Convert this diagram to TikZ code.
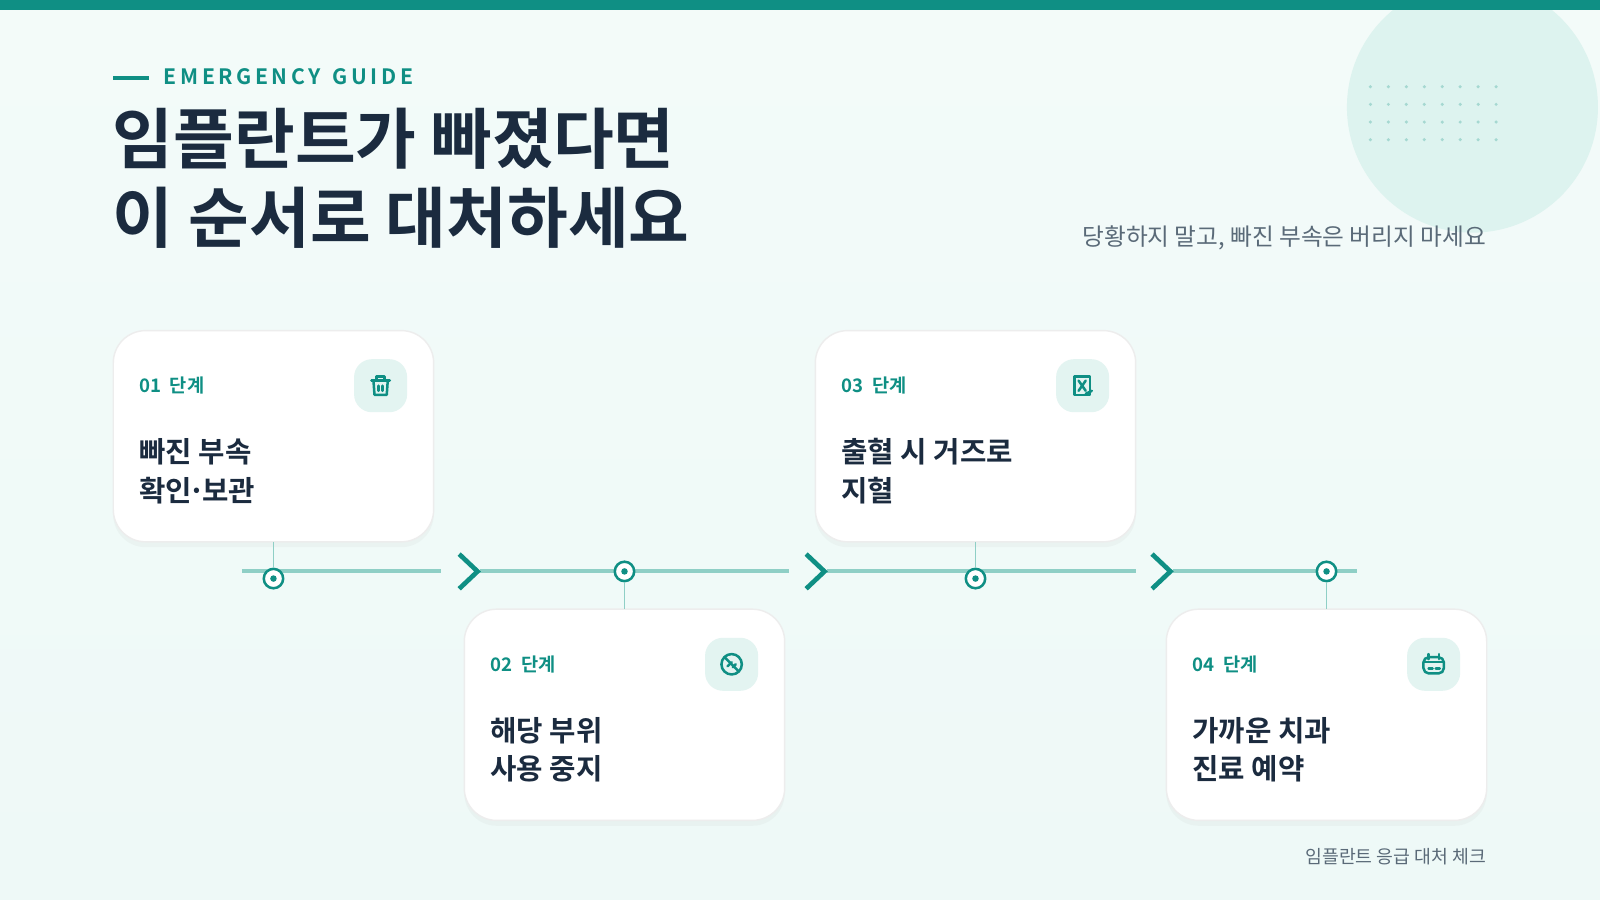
\documentclass[tikz,border=0pt]{standalone}
\usepackage{fontspec}
\setmainfont{Noto Sans CJK KR}[BoldFont={* Bold}]
\usetikzlibrary{shadows}
\definecolor{teal1}{HTML}{0F8F84}
\definecolor{navy}{HTML}{1B2B3F}
\definecolor{mint}{HTML}{DDF3EF}
\definecolor{iconbg}{HTML}{E3F4F1}
\definecolor{track}{HTML}{8FCFC6}
\definecolor{greytxt}{HTML}{5A6A78}
\tikzset{
  card/.style={draw=black!7, fill=white, rounded corners=9pt, line width=0.4pt,
    drop shadow={opacity=0.05, shadow xshift=0pt, shadow yshift=-1.5pt}},
  iconbox/.style={fill=iconbg, rounded corners=5pt},
  ico/.style={draw=teal1, line width=0.7pt, line cap=round, line join=round},
  steplbl/.style={anchor=base west, text=teal1, font=\bfseries\fontsize{5.2}{6}\selectfont},
  steptxt/.style={anchor=north west, align=left, text=navy, font=\bfseries\fontsize{8}{10.8}\selectfont},
  track/.style={draw=track, line width=1.1pt},
  chev/.style={draw=teal1, line width=1.3pt},
  stem/.style={draw=track, line width=0.5pt},
  marker/.style={circle, draw=teal1, fill=white, line width=0.7pt, minimum size=0.19cm, inner sep=0pt}
}
\begin{document}
\begin{tikzpicture}[x=0.01cm, y=-0.01cm]
\useasboundingbox (0,0) rectangle (1568,882);
% background
\shade[top color=mint!35, bottom color=mint!50] (0,0) rectangle (1568,882);
\fill[teal1] (0,0) rectangle (1568,10);
\begin{scope}
\clip (0,10) rectangle (1568,882);
\fill[mint] (1443,105) circle (123);
\end{scope}
\foreach \i in {0,...,7}
  \foreach \j in {0,...,3}
    \fill[track!80] (1343+17.6*\i,85+17.3*\j) circle (1.7);
% heading
\draw[teal1, line width=1.1pt] (111,76) -- (146,76);
\node[anchor=base west, text=teal1, font=\bfseries\fontsize{5.9}{6}\selectfont, inner sep=0pt] (kicker) at (160,83) {E\,M\,E\,R\,G\,E\,N\,C\,Y\, \,G\,U\,I\,D\,E};
\node[anchor=base west, text=navy, font=\bfseries\fontsize{18.4}{22}\selectfont, inner sep=0pt] (title1) at (110,160) {임플란트가 빠졌다면};
\node[anchor=base west, text=navy, font=\bfseries\fontsize{18.4}{22}\selectfont, inner sep=0pt] (title2) at (110,238) {이 순서로 대처하세요};
\node[anchor=base east, text=greytxt, font=\fontsize{6.6}{8}\selectfont, inner sep=0pt] (sub) at (1457,241) {당황하지 말고, 빠진 부속은 버리지 마세요};
\node[anchor=base east, text=greytxt, font=\fontsize{5.1}{6}\selectfont, inner sep=0pt] (foot) at (1457,846) {임플란트 응급 대처 체크};
% timeline
\draw[track] (237,560) -- (432,560);
\draw[track] (470,560) -- (773,560);
\draw[track] (810,560) -- (1113,560);
\draw[track] (1150,560) -- (1330,560);
\foreach \x in {450,790,1129}
  \draw[chev] (\x,543) -- (\x+18,560) -- (\x,577);
% cards
\foreach \n/\x/\y/\la/\lb in {1/111/324/빠진 부속/확인{\kern-1pt}·{\kern-1pt}보관, 2/455/597/해당 부위/사용 중지, 3/799/324/출혈 시 거즈로/지혈, 4/1143/597/가까운 치과/진료 예약}{
  \path[card] (\x,\y) rectangle ++(314,207);
  \path[iconbox] (\x+236,\y+28) rectangle ++(52,52);
  \coordinate (ic\n) at (\x+262,\y+54);
  \node[steplbl, inner sep=0pt] (lbl\n) at (\x+25,\y+61) {0\n\ \ 단계};
  \node[steptxt, inner sep=0pt] (txt\n) at (\x+25,\y+105) {\la\\\lb};
}
% stems and markers
\node[marker] (m1) at (268,567) {};
\node[marker] (m2) at (612,560) {};
\node[marker] (m3) at (956,567) {};
\node[marker] (m4) at (1300,560) {};
\draw[stem] (268,531) -- (m1);
\draw[stem] (m2) -- (612,597);
\draw[stem] (956,531) -- (m3);
\draw[stem] (m4) -- (1300,597);
\foreach \m in {m1,m2,m3,m4}
  \fill[teal1] (\m) circle (3.2);
% icons
\begin{scope}[shift={(ic1)}]
  \draw[ico] (-9,-5) -- (9,-5);
  \draw[ico] (-4,-5) -- (-4,-9) -- (4,-9) -- (4,-5);
  \draw[ico] (-7,-5) -- (-6,9) -- (6,9) -- (7,-5);
  \draw[ico] (-2,0) -- (-2,5) (2,0) -- (2,5);
\end{scope}
\begin{scope}[shift={(ic2)}]
  \draw[ico] (0,0) circle (10);
  \draw[ico] (-7,-7) -- (7,7);
  \draw[ico] (-4,2) -- (0,-2) (1,3) -- (4,0);
\end{scope}
\begin{scope}[shift={(ic3)}]
  \draw[ico] (-8,-9) rectangle (7,9);
  \draw[ico] (-4,-5) -- (3,5) (3,-5) -- (-4,5);
  \draw[ico] (3,8) -- (9,5);
\end{scope}
\begin{scope}[shift={(ic4)}]
  \draw[ico, rounded corners=1.5pt] (-10,-7) rectangle (10,9);
  \draw[ico] (-10,-2) -- (10,-2);
  \draw[ico] (-5,-10) -- (-5,-5) (5,-10) -- (5,-5);
  \draw[ico] (-5,4) -- (-1,4) (2,4) -- (6,4);
\end{scope}
\end{tikzpicture}
\end{document}
